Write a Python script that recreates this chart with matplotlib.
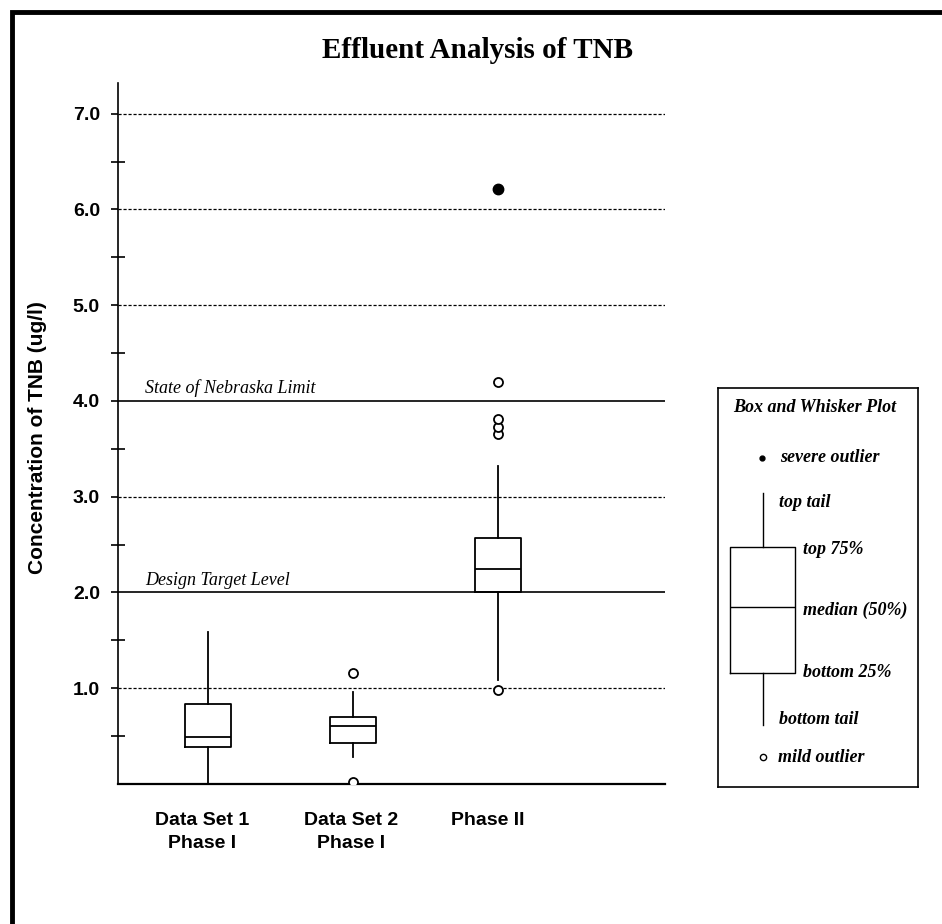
import matplotlib
matplotlib.use("Agg")
import matplotlib.pyplot as plt
from matplotlib.patches import Rectangle
from matplotlib.transforms import ScaledTranslation
import numpy as np

# ---------------- data ----------------
categories = ["Data Set 1\nPhase I", "Data Set 2\nPhase I", "Phase II"]
q1 = [0.39, 0.43, 2.00]
median = [0.49, 0.61, 2.25]
q3 = [0.84, 0.70, 2.57]
whisker_low = [0.00, 0.285, 1.09]
whisker_high = [1.59, 0.96, 3.32]
mild_outliers = [[], [1.16, 0.02], [0.98, 3.65, 3.73, 3.81, 4.20]]
severe_outliers = [[], [], [6.21]]

dashed_levels = [1.0, 3.0, 5.0, 6.0, 7.0]
limit_levels = [4.0, 2.0]
limit_labels = ["State of Nebraska Limit", "Design Target Level"]
ytick_values = [1.0, 2.0, 3.0, 4.0, 5.0, 6.0, 7.0]
yminor_values = [0.5, 1.5, 2.5, 3.5, 4.5, 5.5, 6.5]

legend_labels = ["severe outlier", "top tail", "top 75%", "median (50%)",
                 "bottom 25%", "bottom tail", "mild outlier"]

SANS_N = ["Liberation Sans", "DejaVu Sans"]
SERIF = ["Liberation Serif", "DejaVu Serif"]

W, H = 942, 924
fig = plt.figure(figsize=(W / 100, H / 100), dpi=100)

# outer frame
fig.patches.append(Rectangle((12 / W, -0.01), 1.05, (H - 12) / H + 0.01,
                             transform=fig.transFigure, fill=False,
                             lw=3.5, ec="black", clip_on=False))

# main axes
ax = fig.add_axes([118 / W, 1 - 784 / H, (665 - 118) / W, (784 - 83) / H])
ax.set_xlim(0.379, 4.152)
ax.set_ylim(0, 7.32)

positions = np.arange(1, len(categories) + 1)
stats = []
for i in range(len(categories)):
    stats.append(dict(med=median[i], q1=q1[i], q3=q3[i],
                      whislo=whisker_low[i], whishi=whisker_high[i],
                      fliers=mild_outliers[i]))

for lv in dashed_levels:
    ax.axhline(lv, color="black", lw=0.9, ls=(0, (2.5, 1.5)), zorder=1)
for lv, lab in zip(limit_levels, limit_labels):
    ax.axhline(lv, color="black", lw=1.2, zorder=1)
    ax.text(0.379 + 27 / 145, lv + 0.04, lab, family=SERIF, style="italic",
            fontsize=13, ha="left", va="bottom")

ax.bxp(stats, positions=positions, widths=0.317, showcaps=False,
       patch_artist=False,
       boxprops=dict(color="black", lw=1.3),
       whiskerprops=dict(color="black", lw=1.3),
       medianprops=dict(color="black", lw=1.3),
       flierprops=dict(marker="o", markerfacecolor="white",
                       markeredgecolor="black", markersize=6.5,
                       markeredgewidth=1.3, linestyle="none"),
       zorder=3)
for p, sev in zip(positions, severe_outliers):
    if sev:
        ax.plot([p] * len(sev), sev, "o", color="black", markersize=7.5,
                zorder=4)

for s in ["top", "right"]:
    ax.spines[s].set_visible(False)
ax.spines["left"].set_linewidth(1.2)
ax.spines["bottom"].set_linewidth(1.6)

ax.set_yticks(ytick_values)
ax.set_yticklabels([f"{v:.1f}" for v in ytick_values], family=SANS_N,
                   fontweight="bold", fontsize=14)
ax.set_yticks(yminor_values, minor=True)
ax.tick_params(axis="y", which="major", direction="out", length=5,
               width=1.2, pad=8)
ax.tick_params(axis="y", which="minor", direction="inout", length=10,
               width=1.2)
ax.set_xticks(positions)
ax.set_xticklabels(categories, family=SANS_N, fontweight="bold",
                   fontsize=14, va="top", linespacing=1.45)
ax.tick_params(axis="x", length=0, pad=20)
shifts = [-6, -2, -10]
for lab, sh in zip(ax.get_xticklabels(), shifts):
    lab.set_transform(lab.get_transform() +
                      ScaledTranslation(sh / 100, 0, fig.dpi_scale_trans))

fig.text(38 / W, 1 - 438 / H, "Concentration of TNB (ug/l)", rotation=90,
         family=SANS_N, fontweight="bold", fontsize=15, ha="center",
         va="center")
fig.text(478 / W, 1 - 50 / H, "Effluent Analysis of TNB", family=SERIF,
         fontweight="bold", fontsize=21, ha="center", va="center")

# legend axes
lx0, lx1, ly0, ly1 = 718, 918, 388, 787
lax = fig.add_axes([lx0 / W, 1 - ly1 / H, (lx1 - lx0) / W, (ly1 - ly0) / H])

legend_stats = [dict(med=0.451, q1=0.286, q3=0.602, whislo=0.155,
                     whishi=0.737, fliers=[0.075])]
lax.bxp(legend_stats, positions=[0.2225], widths=0.325, showcaps=False,
        boxprops=dict(color="black", lw=1.0),
        whiskerprops=dict(color="black", lw=1.0),
        medianprops=dict(color="black", lw=1.0),
        flierprops=dict(marker="o", markerfacecolor="white",
                        markeredgecolor="black", markersize=4.5,
                        markeredgewidth=1.0, linestyle="none"))
lax.plot([0.22], [0.825], "o", color="black", markersize=3.5)
lax.set_xlim(0, 1)
lax.set_ylim(0, 1)
lax.set_xticks([])
lax.set_yticks([])
for s in lax.spines.values():
    s.set_linewidth(1.2)

lax.text(0.485, 0.952, "Box and Whisker Plot", family=SERIF,
         fontweight="bold", style="italic", fontsize=13, ha="center",
         va="center")
legend_pos = [(0.31, 0.825), (0.305, 0.712), (0.425, 0.594), (0.425, 0.444),
              (0.425, 0.286), (0.305, 0.168), (0.30, 0.075)]
for lab, (x, y) in zip(legend_labels, legend_pos):
    lax.text(x, y, lab, family=SERIF, fontweight="bold", style="italic",
             fontsize=13, ha="left", va="center")

fig.savefig("out.png", dpi=100)
